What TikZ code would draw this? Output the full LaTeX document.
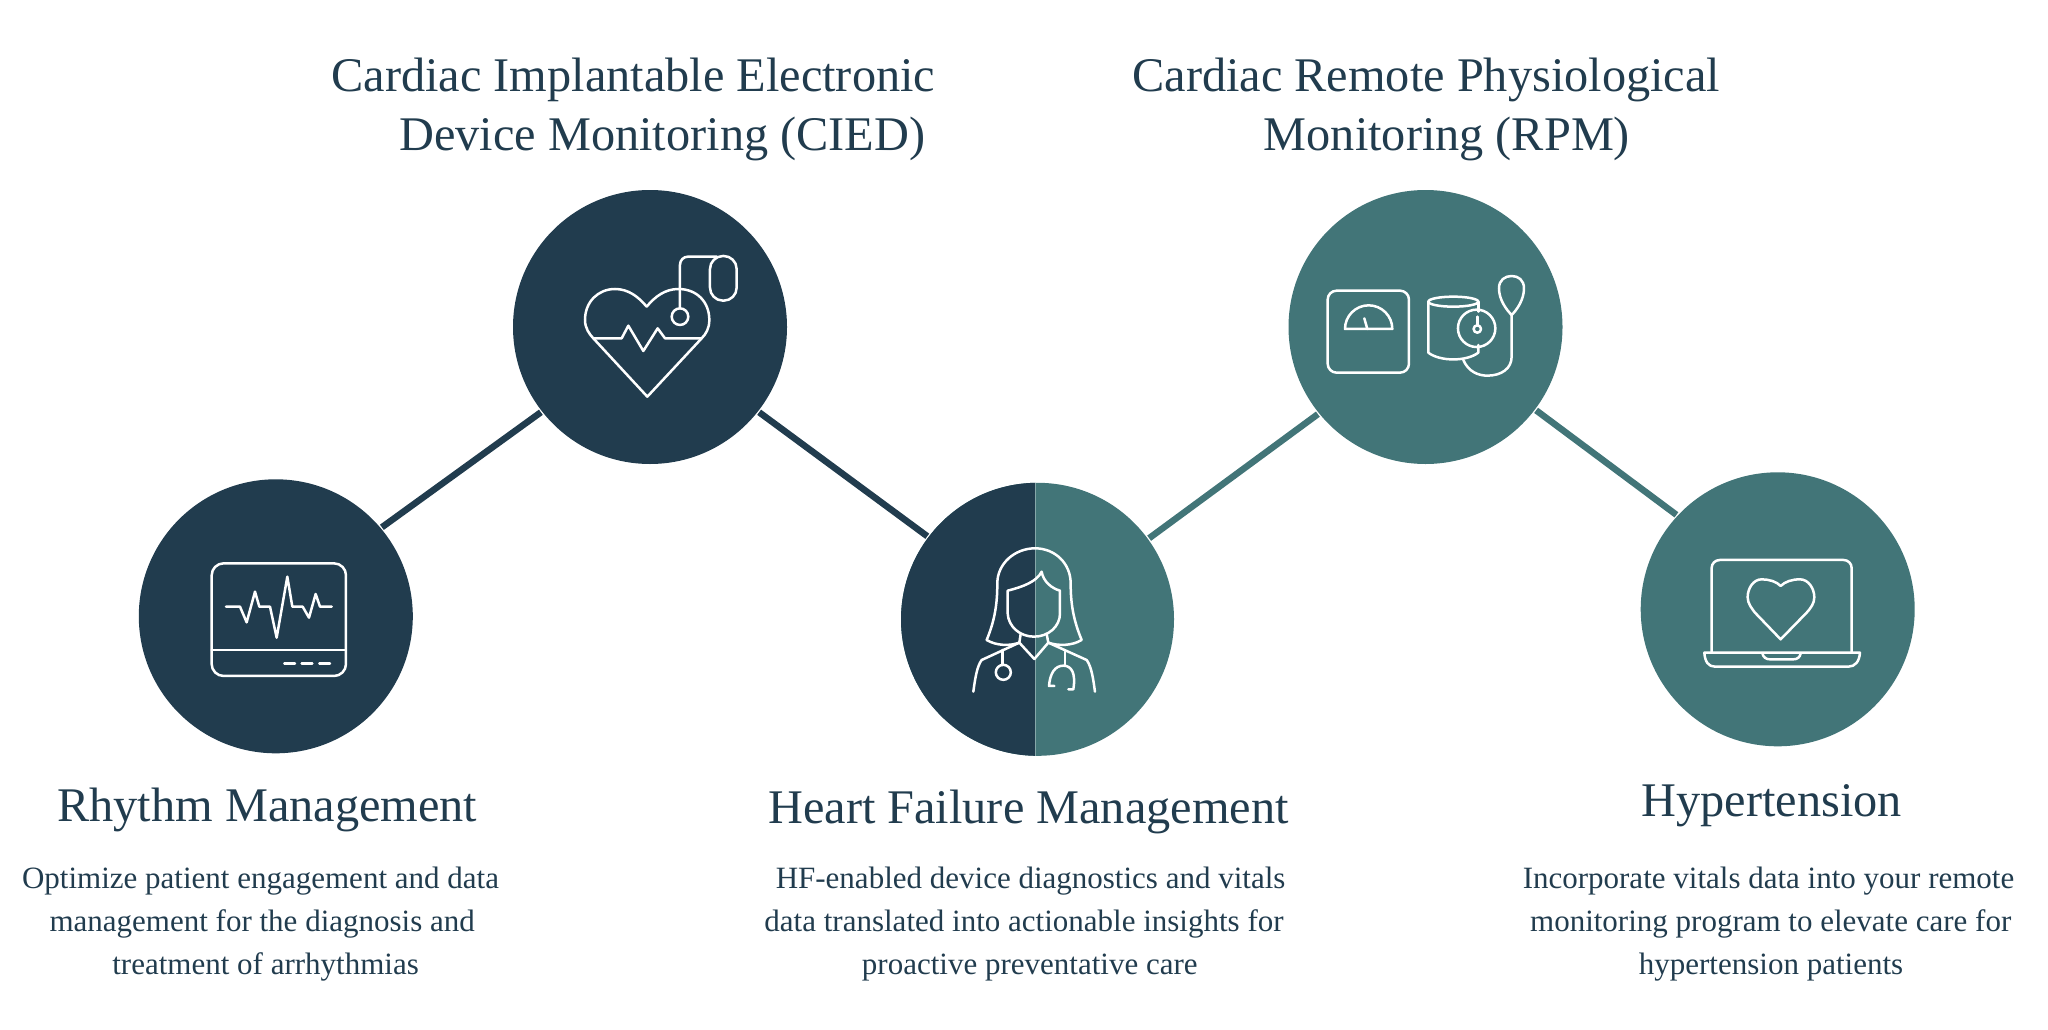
\documentclass[tikz,border=0pt]{standalone}
\usepackage{fontspec}
\setmainfont{Liberation Serif}
\definecolor{navy}{HTML}{213C4E}
\definecolor{teal2}{HTML}{427578}
\definecolor{seam}{HTML}{86A7A9}
\tikzset{
  disc/.style={circle,minimum size=274pt,inner sep=0pt,outer sep=1.5pt,fill=#1},
  link/.style={line width=6.5pt,draw=#1},
  ico/.style={draw=white,line width=2.5pt,line join=round,line cap=round,x=0.33333pt,y=-0.33333pt},
  head/.style={anchor=base,text=navy,font=\fontsize{48.3}{52}\selectfont,inner sep=0pt},
  body/.style={anchor=base,text=navy,font=\fontsize{31}{34}\selectfont,inner sep=0pt}
}
\begin{document}
\begin{tikzpicture}[x=1pt,y=-1pt]
\useasboundingbox (0,0) rectangle (2048,1030);
% discs
\node[disc=navy] (rhythm) at (275.8,616.3) {};
\node[disc=navy] (cied) at (650,327) {};
\node[disc=teal2,minimum size=273pt] (doc) at (1037.5,619.3) {};
\node[disc=teal2] (rpm) at (1425.5,327) {};
\node[disc=teal2] (hyper) at (1777.7,609.3) {};
\begin{scope}
\clip (890,470) rectangle (1035.3,770);
\fill[navy] (1037.5,619.3) circle[radius=136.5pt];
\end{scope}
\draw[seam,line width=1pt] (1035.3,483) -- (1035.3,755.7);
% connectors
\draw[link=navy] (rhythm.40.2) -- (cied.-142);
\draw[link=navy] (cied.-38) -- (doc.143.7);
\draw[link=teal2] (doc.36.6) -- (rpm.219);
\draw[link=teal2] (rpm.-37.7) -- (hyper.137.4);
% CIED icon
\begin{scope}[ico,shift={(1500,540)}]
\draw (440,380) .. controls (415,350) and (385,327) .. (345,327) .. controls (295,327) and (255,365) .. (255,420) .. controls (255,445) and (268,462) .. (280,475) -- (442,650) -- (605,475) .. controls (618,462) and (628,445) .. (628,420) .. controls (628,365) and (590,327) .. (535,327) .. controls (495,327) and (465,350) .. (440,380);
\draw (280,475) -- (365,475) -- (385,437) -- (430,513) -- (473,445) -- (495,475) -- (605,475);
\draw (540,410) circle[radius=8.3pt];
\draw[rounded corners=8pt] (540,385) -- (540,230) -- (650,230);
\draw[rounded corners=13pt] (630,228) rectangle (710,362);
\end{scope}
% RPM icon
\begin{scope}[ico,shift={(3840,540)}]
\draw[rounded corners=9pt] (143,332) rectangle (387,578);
\draw (195,447) arc[start angle=180,end angle=360,radius=71] -- cycle;
\draw (253,415) -- (262,447);
\draw (520,365) ellipse[x radius=25pt,y radius=5pt];
\draw (445,365) -- (445,518) .. controls (480,545) and (560,545) .. (595,518) -- (595,495);
\draw (595,365) -- (595,395);
\draw (590,445) circle[radius=18.7pt];
\draw (592,447) circle[radius=3.7pt];
\draw (592,410) -- (592,436);
\draw (550,540) .. controls (565,575) and (595,587) .. (622,587) .. controls (665,587) and (695,565) .. (695,530) -- (695,405);
\draw (695,405) .. controls (680,390) and (657,360) .. (657,325) .. controls (657,300) and (675,288) .. (695,288) .. controls (715,288) and (732,300) .. (732,325) .. controls (732,360) and (710,390) .. (695,405);
\end{scope}
% Rhythm icon
\begin{scope}[ico,shift={(540,1560)}]
\draw[rounded corners=12pt] (95,130) rectangle (498,468);
\draw (95,390) -- (498,390);
\draw (313,430) -- (345,430) (365,430) -- (397,430) (418,430) -- (450,430);
\draw (138,260) -- (180,260) -- (200,307) -- (225,215) -- (238,260) -- (270,260) -- (290,353) -- (322,170) -- (337,260) -- (368,260) -- (387,293) -- (407,222) -- (420,260) -- (455,260);
\end{scope}
% Doctor icon
\begin{scope}[ico,shift={(2820,1560)}]
\draw (140,360) .. controls (165,300) and (172,250) .. (172,190) .. controls (172,130) and (225,85) .. (285,85) .. controls (345,85) and (392,130) .. (392,190) .. controls (392,250) and (400,300) .. (425,360) .. controls (395,378) and (355,378) .. (325,368);
\draw (140,360) .. controls (170,378) and (210,378) .. (238,368);
\draw (305,155) .. controls (290,185) and (250,200) .. (203,212) -- (203,280) .. controls (205,320) and (240,350) .. (282,350) .. controls (325,350) and (360,320) .. (360,280) -- (360,212) .. controls (335,205) and (310,185) .. (305,155);
\draw (242,342) -- (238,368) -- (283,417) -- (325,368) -- (320,342);
\draw (238,368) -- (125,420) .. controls (110,440) and (105,480) .. (100,515);
\draw (325,368) -- (440,420) .. controls (455,440) and (460,480) .. (465,515);
\draw (187,390) -- (187,435);
\draw (190,457) circle[radius=7.5pt];
\draw (375,395) -- (375,437);
\draw (343,498) -- (327,498) .. controls (330,460) and (345,437) .. (370,437) .. controls (395,437) and (408,460) .. (400,508) -- (385,508);
\end{scope}
% Hypertension icon
\begin{scope}[ico,shift={(5040,1620)}]
\draw[rounded corners=8pt] (95,338) -- (95,60) -- (515,60) -- (515,338);
\draw (73,338) -- (540,338) .. controls (538,365) and (525,380) .. (505,380) -- (105,380) .. controls (85,380) and (75,365) .. (73,338) -- cycle;
\draw (247,340) .. controls (250,352) and (258,358) .. (270,358) -- (340,358) .. controls (352,358) and (360,352) .. (362,340);
\draw (302,138) .. controls (290,125) and (268,118) .. (245,118) .. controls (220,118) and (203,145) .. (203,172) .. controls (203,190) and (215,205) .. (225,218) -- (302,298) -- (380,218) .. controls (392,205) and (403,190) .. (403,172) .. controls (403,145) and (385,118) .. (360,118) .. controls (336,118) and (315,125) .. (302,138);
\end{scope}
% texts
\node[head] (t1) at (633.3,91.4) {Cardiac Implantable Electronic};
\node[head] (t2) at (662.3,150) {Device Monitoring (CIED)};
\node[head] (t3) at (1426.2,91.4) {Cardiac Remote Physiological};
\node[head] (t4) at (1446.9,150) {Monitoring (RPM)};
\node[head] (h1) at (267.3,821) {Rhythm Management};
\node[head] (h2) at (1028.5,823) {Heart Failure Management};
\node[head] (h3) at (1771.8,816.5) {Hypertension};
\node[body] (a1) at (260.5,888.5) {Optimize patient engagement and data};
\node[body] (a2) at (262.2,931.5) {management for the diagnosis and};
\node[body] (a3) at (265.6,974.2) {treatment of arrhythmias};
\node[body] (b1) at (1030.6,888.5) {HF-enabled device diagnostics and vitals};
\node[body] (b2) at (1024,931.5) {data translated into actionable insights for};
\node[body] (b3) at (1029.8,974.2) {proactive preventative care};
\node[body] (c1) at (1768.5,888.5) {Incorporate vitals data into your remote};
\node[body] (c2) at (1770.7,931.5) {monitoring program to elevate care for};
\node[body] (c3) at (1771,974.2) {hypertension patients};
\end{tikzpicture}
\end{document}
